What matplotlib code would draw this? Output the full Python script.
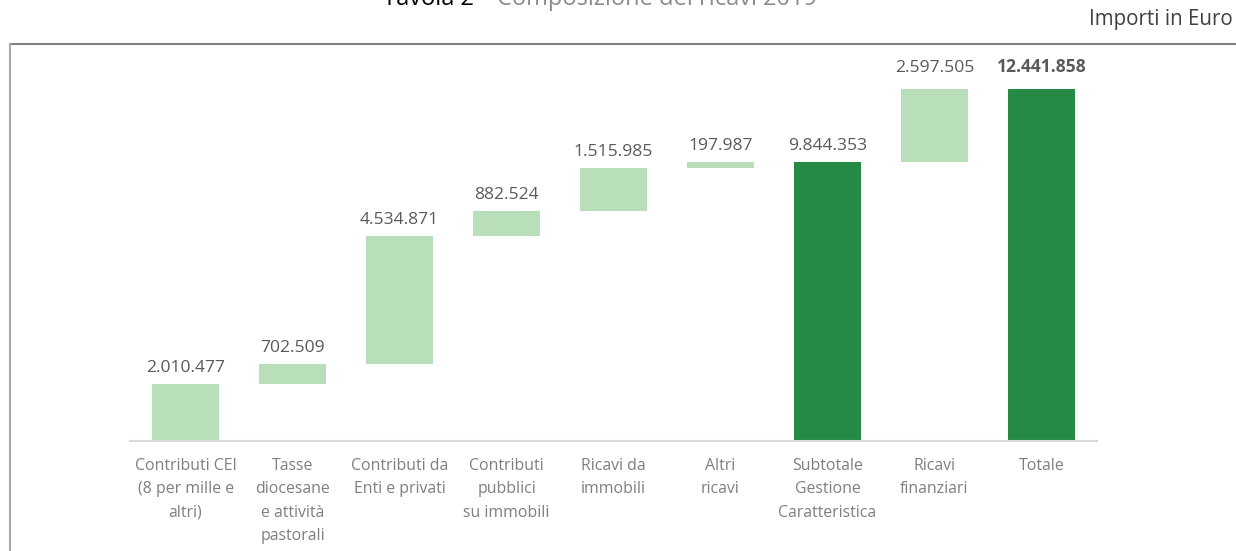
import matplotlib
matplotlib.use("Agg")
import matplotlib.pyplot as plt
from matplotlib.lines import Line2D

categories = ["Contributi CEI\n(8 per mille e\naltri)", "Tasse\ndiocesane\ne attività\npastorali",
              "Contributi da\nEnti e privati", "Contributi\npubblici\nsu immobili", "Ricavi da\nimmobili",
              "Altri\nricavi", "Subtotale\nGestione\nCaratteristica", "Ricavi\nfinanziari", "Totale"]
values = [2010477, 702509, 4534871, 882524, 1515985, 197987, 9844353, 2597505, 12441858]
is_total = [False, False, False, False, False, False, True, False, True]
labels = ["2.010.477", "702.509", "4.534.871", "882.524", "1.515.985", "197.987", "9.844.353", "2.597.505", "12.441.858"]

light = "#b8dfb9"
dark = "#268a45"

plt.rcParams['font.family'] = ['Open Sans', 'DejaVu Sans']
W, H = 1236, 551
fig = plt.figure(figsize=(W/100, H/100), dpi=100)
ax = fig.add_axes([130/W, 1-441/H, (1097-130)/W, (441-60)/H])

bottoms = []
cum = 0
for v, t in zip(values, is_total):
    if t:
        bottoms.append(0)
        cum = v
    else:
        bottoms.append(cum)
        cum += v

x = list(range(len(values)))
colors = [dark if t else light for t in is_total]
ax.bar(x, values, bottom=bottoms, width=0.63, color=colors)
for xi, b, v, lab, t in zip(x, bottoms, values, labels, is_total):
    off = 9 if xi >= len(values)-2 else 6
    ax.annotate(lab, (xi, b+v), xytext=(0, off), textcoords="offset points", ha="center", va="bottom",
                fontsize=12.6, color="#595959", fontweight="bold" if xi == len(values)-1 else "normal")

ax.set_xlim(-0.52, 8.52)
ax.set_ylim(0, (441-60)/352*12441858)
ax.set_yticks([])
ax.set_xticks(x)
ax.set_xticklabels(categories, fontsize=11.4, color="#7f7f7f", linespacing=1.62)
ax.tick_params(axis='x', length=0, pad=12)
for s in ["top", "right", "left"]:
    ax.spines[s].set_visible(False)
ax.spines["bottom"].set_color("#d9d9d9")
ax.spines["bottom"].set_linewidth(1.5)

# frame lines
fig.add_artist(Line2D([10/W, 1.0], [1-44/H, 1-44/H], color="#7f7f7f", lw=1.5))
fig.add_artist(Line2D([10/W, 10/W], [1-44/H, 0], color="#aaaaaa", lw=1.5))

fig.text(1233/W, 1-20/H, "Importi in Euro", ha="right", va="center", fontsize=14.8, color="#404040")
fig.text(383/W, 1-5/H, "Tavola 2 -", ha="left", va="baseline", fontsize=17, color="black")
fig.text(497/W, 1-5/H, "Composizione dei ricavi 2019", ha="left", va="baseline", fontsize=17, color="#8c8c8c")

fig.savefig("out.png", dpi=100)
